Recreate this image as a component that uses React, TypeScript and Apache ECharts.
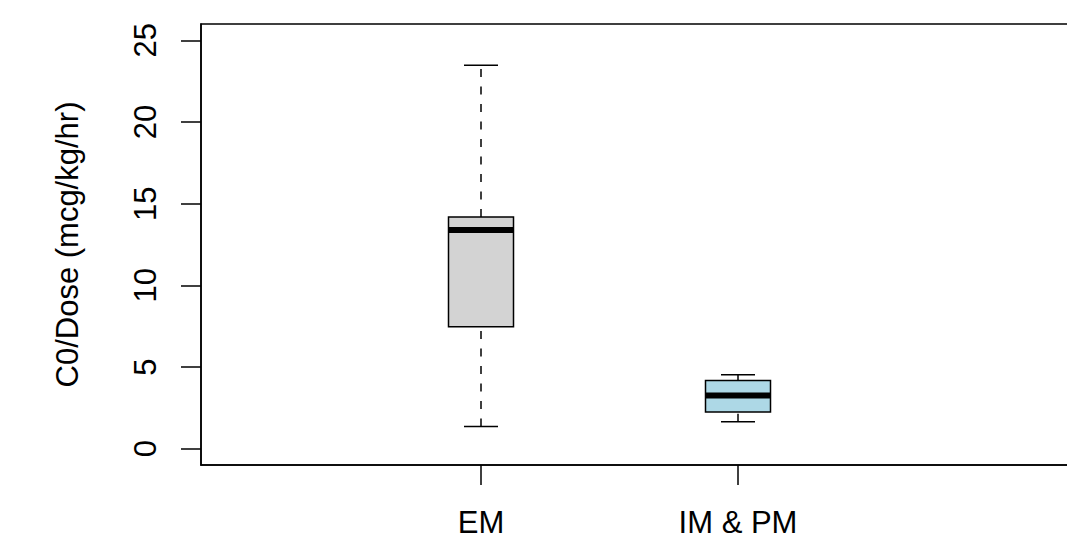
import React, { useEffect, useRef } from "react";
import * as echarts from "echarts";

const categories = ["EM", "IM & PM"];
const positions = [1, 2];
const mins = [1.35, 1.65];
const q1s = [7.47, 2.25];
const medians = [13.39, 3.26];
const q3s = [14.19, 4.18];
const maxs = [23.47, 4.53];
const boxColors = ["#d3d3d3", "#add8e6"];
const yTicks = [0, 5, 10, 15, 20, 25];

const FONT = "'Liberation Sans', Arial, Helvetica, sans-serif";

export default function App() {
  const ref = useRef<HTMLDivElement>(null);
  useEffect(() => {
    if (!ref.current) return;
    const chart = echarts.init(ref.current, null, { renderer: "svg" });
    const data = positions.map((p, i) => [p, mins[i], q1s[i], medians[i], q3s[i], maxs[i], i]);
    const halfBox = 32.5;
    const halfCap = 17;
    chart.setOption({
      animation: false,
      backgroundColor: "#ffffff",
      grid: {
        left: 201,
        top: 24,
        width: 900,
        height: 441,
        show: true,
        borderColor: "#000",
        borderWidth: 1.5,
        backgroundColor: "transparent",
      },
      xAxis: {
        type: "value",
        min: 1 - 280 / 257,
        max: 1 - 280 / 257 + 900 / 257,
        axisLine: { show: true, onZero: false, lineStyle: { color: "#000", width: 1.5 } },
        splitLine: { show: false },
        axisTick: { show: true, customValues: positions, length: 20, lineStyle: { color: "#000", width: 1.5 } },
        axisLabel: {
          customValues: positions,
          formatter: (v: number) => categories[positions.indexOf(Math.round(v))] ?? "",
          fontSize: 31,
          fontFamily: FONT,
          color: "#000",
          margin: 42,
        },
      },
      yAxis: {
        type: "value",
        min: -1,
        max: 26,
        name: "C0/Dose (mcg/kg/hr)",
        nameLocation: "middle",
        nameRotate: 90,
        nameGap: 118,
        nameTextStyle: { fontSize: 31, fontFamily: FONT, color: "#000" },
        axisLine: { show: true, onZero: false, lineStyle: { color: "#000", width: 1.5 } },
        splitLine: { show: false },
        axisTick: { show: true, customValues: yTicks, length: 20, lineStyle: { color: "#000", width: 1.5 } },
        axisLabel: {
          customValues: yTicks,
          rotate: 90,
          fontSize: 31,
          fontFamily: FONT,
          color: "#000",
          margin: 40,
        },
      },
      series: [
        {
          type: "custom",
          data,
          clip: false,
          renderItem: (params: any, api: any) => {
            const x = api.value(0);
            const idx = api.value(6);
            const pMin = api.coord([x, api.value(1)]);
            const pQ1 = api.coord([x, api.value(2)]);
            const pMed = api.coord([x, api.value(3)]);
            const pQ3 = api.coord([x, api.value(4)]);
            const pMax = api.coord([x, api.value(5)]);
            const cx = pMed[0];
            const line = { stroke: "#000", lineWidth: 1.5 };
            return {
              type: "group",
              children: [
                {
                  type: "line",
                  shape: { x1: cx, y1: pQ3[1], x2: cx, y2: pMax[1] },
                  style: { ...line, lineDash: [8, 9.5] },
                },
                {
                  type: "line",
                  shape: { x1: cx, y1: pMin[1], x2: cx, y2: pQ1[1] },
                  style: { ...line, lineDash: [8, 9.5] },
                },
                {
                  type: "line",
                  shape: { x1: cx - halfCap, y1: pMax[1], x2: cx + halfCap, y2: pMax[1] },
                  style: line,
                },
                {
                  type: "line",
                  shape: { x1: cx - halfCap, y1: pMin[1], x2: cx + halfCap, y2: pMin[1] },
                  style: line,
                },
                {
                  type: "rect",
                  shape: { x: cx - halfBox, y: pQ3[1], width: halfBox * 2, height: pQ1[1] - pQ3[1] },
                  style: { fill: boxColors[idx], stroke: "#000", lineWidth: 1.5 },
                },
                {
                  type: "line",
                  shape: { x1: cx - halfBox, y1: pMed[1], x2: cx + halfBox, y2: pMed[1] },
                  style: { stroke: "#000", lineWidth: 6 },
                },
              ],
            };
          },
        },
      ],
    });
    return () => chart.dispose();
  }, []);
  return (
    <div
      style={{ position: "absolute", left: 0, top: 0, width: 1067, height: 539, overflow: "hidden", background: "#fff" }}
    >
      <div ref={ref} style={{ width: 1200, height: 539 }} />
    </div>
  );
}
